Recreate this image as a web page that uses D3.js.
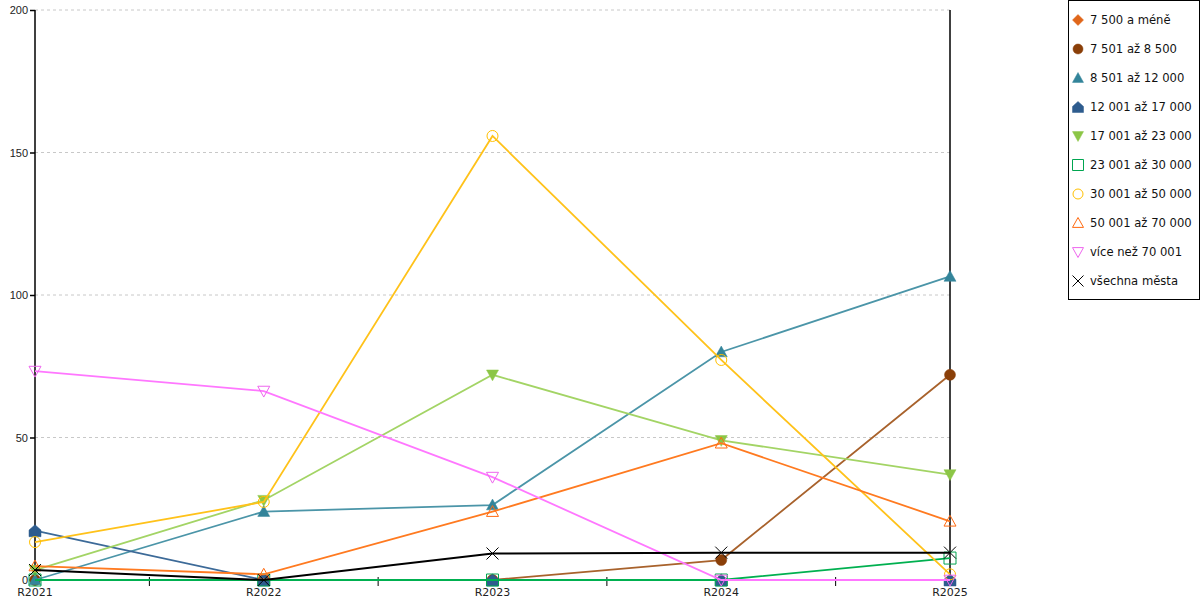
<!DOCTYPE html>
<html>
<head>
<meta charset="utf-8">
<script src="https://cdn.jsdelivr.net/npm/d3@7/dist/d3.min.js"></script>
<style>
  body { margin: 0; background: #fff; }
  svg { font-family: "DejaVu Sans", sans-serif; }
  .skala { font-size: 11px; fill: #222; }
  .legtext { font-size: 11.6px; fill: #111; }
</style>
</head>
<body>
<div id="box"></div>
<script>
// Kategorien (Jahre)
const categories = ["R2021", "R2022", "R2023", "R2024", "R2025"]
const yTicks = [0, 50, 100, 150, 200]

// Werte je Serie
const s7500 = [0, 0, 0, 0, 0]
const s8500 = [0, 0, 0, 7, 72]
const s12000 = [0, 24, 26.3, 80, 106.5]
const s17000 = [17.3, 0, 0, 0, 0]
const s23000 = [3.5, 28, 72, 49, 37]
const s30000 = [0, 0, 0, 0, 7.7]
const s50000 = [13.3, 27.4, 155.8, 77.2, 2]
const s70000 = [4.9, 2, 24, 48, 20.6]
const sOver = [73.3, 66.3, 36.1, 0, 0]
const sAll = [3.5, 0, 9.3, 9.6, 9.6]

const seriesNames = ["7 500 a méně", "7 501 až 8 500", "8 501 až 12 000", "12 001 až 17 000",
  "17 001 až 23 000", "23 001 až 30 000", "30 001 až 50 000", "50 001 až 70 000",
  "více než 70 001", "všechna města"]
const seriesValues = [s7500, s8500, s12000, s17000, s23000, s30000, s50000, s70000, sOver, sAll]

// Stil je Serie: Linienfarbe, Markerfarbe, Symbol, gefüllt?
const styles = [
  { line: "#e8701c", mark: "#e0661a", sym: "diamond", fill: true },
  { line: "#a8622c", mark: "#8a3f08", sym: "circle", fill: true },
  { line: "#4b95a8", mark: "#33849a", sym: "triangle", fill: true },
  { line: "#3c6a98", mark: "#2e5c8e", sym: "house", fill: true },
  { line: "#a3d465", mark: "#8cc646", sym: "tridown", fill: true },
  { line: "#00b050", mark: "#00a550", sym: "square", fill: false },
  { line: "#ffc21a", mark: "#ffc000", sym: "circle", fill: false },
  { line: "#ff7a20", mark: "#ff6a10", sym: "triangle", fill: false },
  { line: "#ff77ff", mark: "#ee66ee", sym: "tridown", fill: false },
  { line: "#000000", mark: "#000000", sym: "cross", fill: false }
]

const width = 1200
const height = 600
const plotL = 35, plotR = 950, plotT = 10, plotB = 580

const svg = d3.select("#box").append("svg")
  .attr("width", width)
  .attr("height", height)

const x = d3.scalePoint().domain(categories).range([plotL, plotR])
const y = d3.scaleLinear().domain([0, 200]).range([plotB, plotT])

// Gitterlinien
svg.append("g")
  .selectAll("line")
  .data(yTicks.filter(d => d > 0))
  .enter()
  .append("line")
  .attr("x1", plotL)
  .attr("x2", plotR)
  .attr("y1", d => y(d))
  .attr("y2", d => y(d))
  .style("stroke", "#c8c8c8")
  .style("stroke-dasharray", "3,3")

// Y-Achse
const yAxis = svg.append("g")
  .attr("transform", "translate(" + plotL + ",0)")
  .call(d3.axisLeft(y).tickValues(yTicks).tickSize(5).tickFormat(d3.format("d")))
yAxis.select(".domain").attr("stroke-width", 1.5).attr("d", "M0," + plotB + "V" + plotT)
yAxis.selectAll("text").attr("class", "skala").style("font-size", "11px").attr("x", -7)
yAxis.selectAll("line").attr("stroke-width", 1.5)

// rechte Linie
svg.append("line")
  .attr("x1", plotR).attr("x2", plotR)
  .attr("y1", plotT).attr("y2", plotB)
  .style("stroke", "#000")
  .style("stroke-width", 1.5)

// X-Achse
svg.append("line")
  .attr("x1", plotL).attr("x2", plotR)
  .attr("y1", plotB).attr("y2", plotB)
  .style("stroke", "#000")

const step = x.step()
svg.append("g")
  .selectAll("line")
  .data(categories.slice(0, -1))
  .enter()
  .append("line")
  .attr("x1", d => x(d) + step / 2)
  .attr("x2", d => x(d) + step / 2)
  .attr("y1", plotB - 3)
  .attr("y2", plotB + 6)
  .style("stroke", "#000")

svg.append("g")
  .selectAll("text")
  .data(categories)
  .enter()
  .append("text")
  .attr("class", "skala")
  .attr("x", d => x(d))
  .attr("y", plotB + 16)
  .style("text-anchor", "middle")
  .text(d => d)

// Symbol-Pfad
function symbolPath(sym, r) {
  if (sym == "diamond") return "M0," + (-r) + "L" + r + ",0L0," + r + "L" + (-r) + ",0Z"
  if (sym == "circle") return d3.symbol().type(d3.symbolCircle).size(Math.PI * r * r)()
  if (sym == "triangle") return "M0," + (-r) + "L" + r + "," + (r * 0.8) + "L" + (-r) + "," + (r * 0.8) + "Z"
  if (sym == "tridown") return "M0," + r + "L" + r + "," + (-r * 0.8) + "L" + (-r) + "," + (-r * 0.8) + "Z"
  if (sym == "square") return "M" + (-r) + "," + (-r) + "H" + r + "V" + r + "H" + (-r) + "Z"
  if (sym == "house") return "M0," + (-r) + "L" + r + "," + (-r * 0.1) + "V" + r + "H" + (-r) + "V" + (-r * 0.1) + "Z"
  if (sym == "cross") return "M" + (-r) + "," + (-r) + "L" + r + "," + r + "M" + r + "," + (-r) + "L" + (-r) + "," + r
}

function drawMarker(g, st, r) {
  g.append("path")
    .attr("d", symbolPath(st.sym, r))
    .style("fill", st.fill ? st.mark : "none")
    .style("stroke", st.mark)
    .style("stroke-width", st.fill ? 0.5 : 1)
}

// Linien und Marker
const line = d3.line()
  .x((d, i) => x(categories[i]))
  .y(d => y(d))

seriesValues.forEach((vals, k) => {
  const st = styles[k]
  const g = svg.append("g").attr("class", "serie")
  g.append("path")
    .datum(vals)
    .attr("d", line)
    .style("fill", "none")
    .style("stroke", st.line)
    .style("stroke-width", k == 9 ? 2 : 1.8)
  vals.forEach((v, i) => {
    const m = g.append("g").attr("transform", "translate(" + x(categories[i]) + "," + y(v) + ")")
    drawMarker(m, st, st.sym == "circle" ? 5.5 : 6)
  })
})

// Legende
const leg = svg.append("g")
leg.append("rect")
  .attr("x", 1068.5).attr("y", 0.5)
  .attr("width", 131).attr("height", 299)
  .style("fill", "#fff")
  .style("stroke", "#000")

seriesNames.forEach((name, k) => {
  const ly = 20 + k * 29
  const m = leg.append("g").attr("transform", "translate(1078," + ly + ")")
  drawMarker(m, styles[k], styles[k].sym == "circle" ? 5 : 5.5)
  leg.append("text")
    .attr("class", "legtext")
    .attr("x", 1090)
    .attr("y", ly + 4)
    .text(name)
})
</script>
</body>
</html>
